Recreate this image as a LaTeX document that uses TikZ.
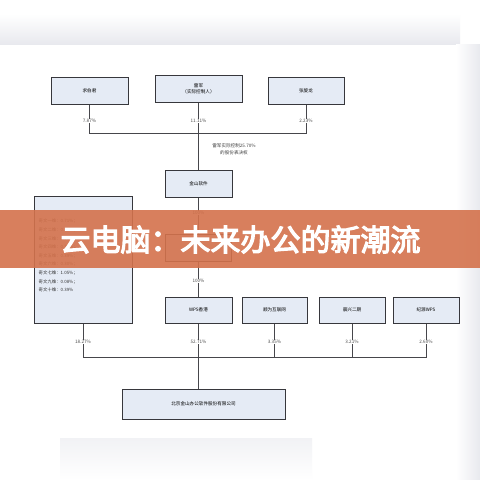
\documentclass[tikz,border=0pt]{standalone}
\usepackage{fontspec}
\newfontfamily\cjk{Noto Sans CJK SC}
\newfontfamily\cjkb[FakeBold=4]{Noto Sans CJK SC}
\definecolor{boxfill}{RGB}{229,235,245}
\definecolor{boxline}{RGB}{55,55,60}
\definecolor{linecol}{RGB}{70,70,75}
\definecolor{bannercol}{RGB}{212,114,76}
\definecolor{shade}{RGB}{232,233,238}
\begin{document}
\begin{tikzpicture}[x=1pt,y=-1pt,
  entity/.style={draw=boxline,fill=boxfill,line width=1pt,inner sep=0pt,
    minimum height=27pt,align=center,font=\cjk\fontsize{4.6}{6}\selectfont},
  pct/.style={fill=white,inner sep=0.6pt,font=\cjk\fontsize{4.6}{5}\selectfont,text=black!70},
  conn/.style={draw=linecol,line width=0.9pt}]
\useasboundingbox (0,0) rectangle (480,480);
\fill[white] (0,0) rectangle (480,480);
% photo surroundings
\shade[top color=white,bottom color=shade] (0,14) rectangle (460,44);
\shade[left color=white,right color=shade] (456,44) rectangle (480,480);
\shade[top color=white!40!shade,bottom color=white] (60,438) rectangle (312,480);
% top shareholders
\node[entity,minimum width=77pt] (qbj) at (89.5,91) {求伯君};
\node[entity,minimum width=87pt] (lj) at (198.5,88.5) {雷军\\（实际控制人）};
\node[entity,minimum width=76pt] (zxl) at (306,90.5) {张旋龙};
\coordinate (hl) at (198.5,133);
\draw[conn] (qbj.south) -- (qbj.south |- hl) -- (zxl.south |- hl) -- (zxl.south);
\node[entity,minimum width=67pt] (jsrj) at (198.5,183.5) {金山软件};
\draw[conn] (lj.south) -- (jsrj.north);
\node[pct] at (89.5,121) {7.87\%};
\node[pct] at (198.5,121) {11.11\%};
\node[pct] at (306,121) {2.23\%};
\node[font=\cjk\fontsize{4.6}{7.5}\selectfont,align=center,text=black!75] (note) at (234,149) {雷军实际控制25.70\%\\的股份表决权};
% middle chain
\node[entity,minimum width=66pt] (mid) at (198.5,248) {};
\draw[conn] (jsrj.south) -- (mid.north);
\node[pct] at (198.5,213) {100\%};
\node[entity,minimum width=67pt,minimum height=26pt] (wps) at (198.5,310) {WPS香港};
\draw[conn] (mid.south) -- (wps.north);
\node[pct] at (198.5,281) {100\%};
\node[entity,minimum width=65pt,minimum height=26pt] (sw) at (274.5,310) {顺为互联网};
\node[entity,minimum width=66pt,minimum height=26pt] (cx) at (352,310) {晨兴二期};
\node[entity,minimum width=66pt,minimum height=26pt] (jy) at (426,310) {纪源WPS};
\node[entity,minimum width=98pt,minimum height=127pt] (qw) at (83,259.5) {};
\node[anchor=north west,align=left,inner sep=0pt,font=\cjk\fontsize{4.4}{8.6}\selectfont,text=black!80] (qwt) at (38.5,219) {奇文一维：0.71\%；\\奇文二维：0.82\%；\\奇文三维：0.75\%；\\奇文四维：0.74\%；\\奇文五维：0.39\%；\\奇文六维：0.30\%；\\奇文七维：1.05\%；\\奇文九维：0.08\%；\\奇文十维：0.39\%};
% bottom company
\node[entity,minimum width=163pt,minimum height=30pt] (kso) at (203.5,404) {北京金山办公软件股份有限公司};
\coordinate (bl) at (198.5,357);
\draw[conn] (qw.south) -- (qw.south |- bl) -- (jy.south |- bl) -- (jy.south);
\draw[conn] (sw.south) -- (sw.south |- bl);
\draw[conn] (cx.south) -- (cx.south |- bl);
\draw[conn] (wps.south) -- (wps.south |- kso.north);
\node[pct] at (83,342) {18.27\%};
\node[pct] at (198.5,342) {52.71\%};
\node[pct] at (274.5,342) {3.35\%};
\node[pct] at (352,342) {3.21\%};
\node[pct] at (426,342) {2.60\%};
% banner
\fill[bannercol,fill opacity=0.9] (0,210) rectangle (480,268);
\node[text=white,font=\cjkb\fontsize{30}{30}\selectfont,inner sep=0pt] (title) at (240.5,239.5) {云电脑：未来办公的新潮流};
\end{tikzpicture}
\end{document}
